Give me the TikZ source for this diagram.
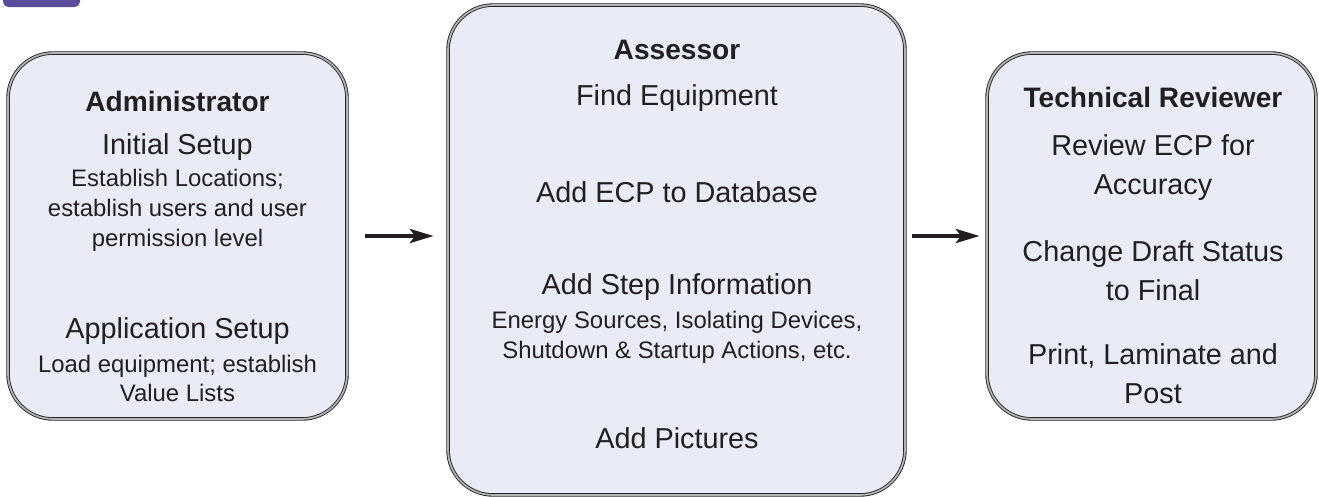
\documentclass[tikz,border=0pt]{standalone}
\usepackage{fontspec}
\setmainfont{Liberation Sans}
\usetikzlibrary{arrows.meta}
\definecolor{boxfill}{HTML}{E9ECF6}
\definecolor{inkgray}{HTML}{231F20}
\definecolor{tabpurple}{HTML}{5B4B9B}
\tikzset{
	role/.style={draw=black!85, double=gray!60, double distance=1pt, line width=0.5pt, fill=boxfill, rounded corners=0.9cm, inner sep=0pt},
	title/.style={font=\bfseries\fontsize{16}{19}\selectfont, text=inkgray, inner sep=0pt},
	task/.style={font=\fontsize{16.4}{22}\selectfont, text=inkgray, align=center, inner sep=0pt},
	detail/.style={font=\fontsize{13.6}{17}\selectfont, text=inkgray, align=center, inner sep=0pt},
	flow/.style={-{Stealth[length=13.5pt, width=8pt, inset=3pt]}, line width=2.2pt, draw=inkgray},
}
\begin{document}
\begin{tikzpicture}[x=0.02cm, y=-0.02cm]
			\useasboundingbox (0,0) rectangle (1319,497);
			\fill[tabpurple, rounded corners=3pt] (3,-10) rectangle (80,7);
			% the three roles
			\node[role, minimum width=6.78cm, minimum height=7.32cm] (admin) at (177.5,236) {};
			\node[role, minimum width=9.14cm, minimum height=9.8cm] (assessor) at (676.5,250) {};
			\node[role, minimum width=6.58cm, minimum height=7.32cm] (reviewer) at (1151.5,236) {};
			\draw[flow, shorten <=0.36cm, shorten >=0.28cm] (admin.east) -- (admin.east -| assessor.west);
			\draw[flow, shorten <=0.14cm, shorten >=0.14cm] (assessor.east |- reviewer.west) -- (reviewer.west);
			% administrator
			\node[title] (admintitle) at (177.5,101) {Administrator};
			\node[task] (initial) at (177.5,147) {Initial Setup};
			\node[detail] (initialnote) at (177.5,210) {Establish Locations;\\establish users and user\\permission level};
			\node[task] (appsetup) at (177.5,331) {Application Setup};
			\node[detail] (appnote) at (177.5,378.5) {Load equipment; establish\\Value Lists};
			% assessor
			\node[title] (assessortitle) at (677,50) {Assessor};
			\node[task] (find) at (677,98) {Find Equipment};
			\node[task] (addecp) at (677,192) {Add ECP to Database};
			\node[task] (addstep) at (677,287) {Add Step Information};
			\node[detail] (stepnote) at (677,337.5) {Energy Sources, Isolating Devices,\\Shutdown \& Startup Actions, etc.};
			\node[task] (addpics) at (677,438) {Add Pictures};
			% technical reviewer
			\node[title] (reviewertitle) at (1153,97) {Technical Reviewer};
			\node[task] (review) at (1153,167.5) {Review ECP for\\Accuracy};
			\node[task] (change) at (1153,270.5) {Change Draft Status\\to Final};
			\node[task] (print) at (1153,373.5) {Print, Laminate and\\Post};
		\end{tikzpicture}
\end{document}
